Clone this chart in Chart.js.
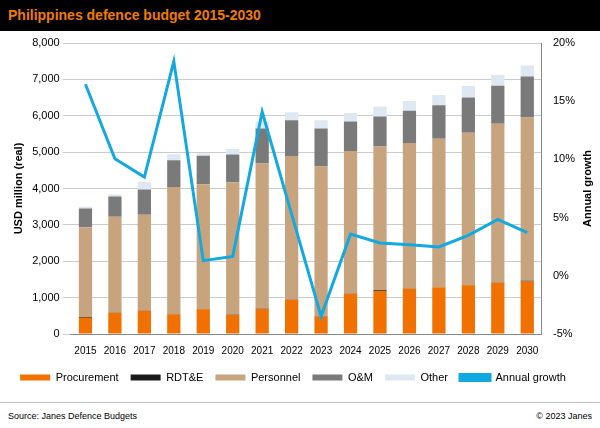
<!DOCTYPE html>
<html><head><meta charset="utf-8">
<script src="https://cdn.jsdelivr.net/npm/chart.js@4"></script>
<style>
body{margin:0;width:600px;height:428px;font-family:"Liberation Sans",Arial,sans-serif;background:#fff;position:relative;overflow:hidden}
#t{height:31px;background:#000;color:#f07c00;font-weight:bold;font-size:14px;line-height:31px;padding-left:8px}
#c{position:absolute;left:0;top:31px;width:600px;height:370px}
#f{position:absolute;left:0;top:402px;width:600px;border-top:1px solid #bbb;font-size:9px;color:#000}
#f span{position:absolute;top:8px}
</style></head><body>
<div id="t">Philippines defence budget 2015-2030</div>
<div id="c"><canvas id="cv"></canvas></div>
<div id="f"><span style="left:8px">Source: Janes Defence Budgets</span><span style="right:8px">© 2023 Janes</span></div>
<script>
const years=['2015','2016','2017','2018','2019','2020','2021','2022','2023','2024','2025','2026','2027','2028','2029','2030'];
const procurement=[450,583,641,544,680,524,689,942,466,1107,1185,1252,1282,1340,1408,1446];
const rdte=[20,5,5,5,5,5,5,5,5,5,20,5,5,5,5,20];
const personnel=[2462,2635,2635,3490,3432,3646,3995,3946,4131,3917,3950,3995,4082,4189,4364,4485];
const om=[515,554,690,738,786,757,961,981,1048,816,826,884,922,971,1048,1127];
const other=[48,58,213,165,68,155,195,223,224,233,271,272,282,311,301,301];
const growth=[16.45,10.06,8.48,18.42,1.30,1.67,14.09,5.3,-3.48,3.58,2.82,2.67,2.48,3.48,4.85,3.70];
const F="'Liberation Sans',Arial,sans-serif";
Chart.defaults.font.family=F;Chart.defaults.font.size=11;Chart.defaults.color='#000';
const bar=(l,d,c)=>({type:'bar',label:l,data:d,backgroundColor:c,yAxisID:'y',stack:'s',barPercentage:0.45,categoryPercentage:1,order:2});
const rTitle={id:'rt',afterDraw(c){const x=c.ctx,a=c.chartArea;x.save();x.font="bold 11px "+F;x.fillStyle='#000';x.textAlign='center';x.translate(588,(a.top+a.bottom)/2);x.rotate(-Math.PI/2);x.fillText('Annual growth',0,0);x.restore();}};
new Chart(document.getElementById('cv'),{data:{labels:years,datasets:[
bar('Procurement',procurement,'#f07000'),bar('RDT&E',rdte,'#1a1a1a'),bar('Personnel',personnel,'#c8a47e'),bar('O&M',om,'#7a7a7a'),bar('Other',other,'#dde8f2'),
{type:'line',label:'Annual growth',data:growth,yAxisID:'y1',borderColor:'#12a9e0',backgroundColor:'#12a9e0',borderWidth:3,pointRadius:0,tension:0,order:1}
]},plugins:[rTitle],options:{responsive:true,maintainAspectRatio:false,animation:false,
layout:{padding:{left:8,right:22,top:12,bottom:8}},
plugins:{legend:{position:'bottom',labels:{boxWidth:30,boxHeight:6,padding:12,font:{size:11},sort:(a,b)=>a.datasetIndex-b.datasetIndex}},tooltip:{enabled:false}},
scales:{x:{stacked:true,grid:{display:false},border:{color:'#888'},ticks:{maxRotation:0,autoSkip:false,font:{size:10}}},
y:{stacked:true,min:0,max:8000,ticks:{stepSize:1000,callback:v=>v.toLocaleString('en-US')},grid:{color:'#ccc'},border:{display:false},title:{display:true,text:'USD million (real)',font:{weight:'bold',size:11}}},
y1:{position:'right',min:-5,max:20,ticks:{stepSize:5,callback:v=>v+'%'},grid:{display:false},border:{color:'#888'}}}}});
</script></body></html>
